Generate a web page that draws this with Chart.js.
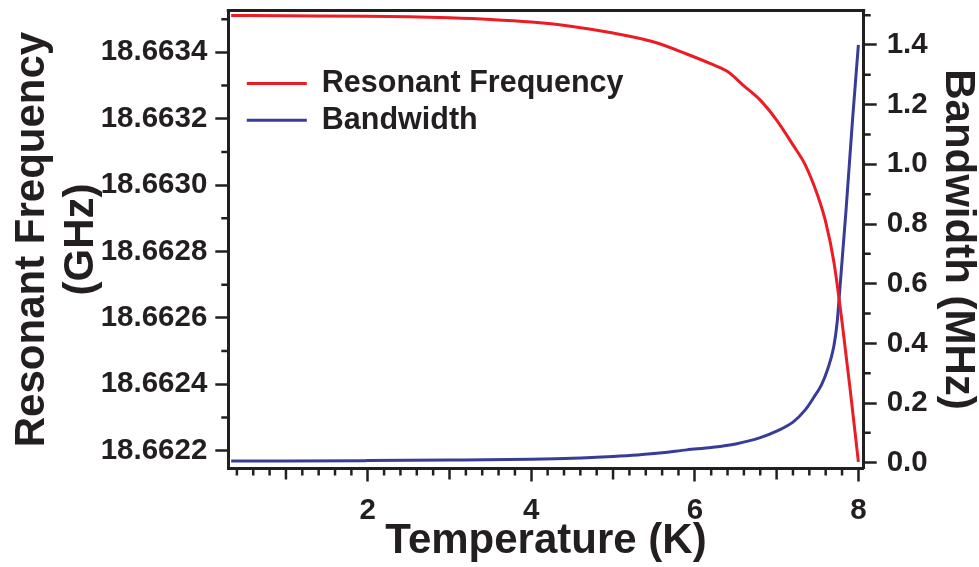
<!DOCTYPE html>
<html>
<head>
<meta charset="utf-8">
<title>Resonant frequency and bandwidth vs temperature</title>
<script src="https://cdn.jsdelivr.net/npm/chart.js@4.4.1/dist/chart.umd.min.js"></script>
<style>
    html, body { margin: 0; padding: 0; background: #fff; }
</style>
</head>
<body>
<canvas id="mainChart" width="979" height="567"></canvas>
<script>
// data
const tempFreq = [0.33, 1.0, 2.0, 2.5, 3.0, 3.5, 4.0, 4.5, 5.0, 5.5, 5.9, 6.2, 6.4, 6.6, 6.8, 7.0, 7.2, 7.35, 7.5, 7.6, 7.7, 7.8, 7.9, 8.0];
const freqGHz = [18.663511, 18.663510, 18.663509, 18.663507, 18.663504, 18.663499, 18.663491, 18.663478, 18.663458, 18.663431,
                 18.663395, 18.663365, 18.663342, 18.663299, 18.663256, 18.663196, 18.663121, 18.663061, 18.662970, 18.662889,
                 18.662769, 18.662588, 18.662383, 18.662166];

const tempBw = [0.33, 1.0, 2.0, 3.0, 4.0, 4.5, 5.0, 5.3, 5.6, 5.9, 6.2, 6.5, 6.8, 7.0, 7.2, 7.35, 7.45, 7.55, 7.62, 7.70, 7.74, 7.77, 7.85, 7.93, 8.0];
const bwMHz = [0.006, 0.006, 0.007, 0.009, 0.012, 0.015, 0.021, 0.026, 0.033, 0.043, 0.051, 0.063, 0.084, 0.106, 0.136, 0.177,
               0.217, 0.262, 0.31, 0.39, 0.47, 0.57, 0.85, 1.155, 1.40];

const seriesNames = ['Resonant Frequency', 'Bandwidth'];
const seriesColors = ['#ec1c24', '#383c98'];

const tempTicks = [2, 4, 6, 8];
const freqTicks = [18.6622, 18.6624, 18.6626, 18.6628, 18.6630, 18.6632, 18.6634];
const bwTicks = [0, 0.2, 0.4, 0.6, 0.8, 1.0, 1.2, 1.4];

const INK = '#231f20';
const FONT = '"Liberation Sans", Arial, Helvetica, sans-serif';

// minor tick values
const tempMinor = [];
for (let i = 2; i <= 40; i++) tempMinor.push(i / 5);
const freqMinor = [];
for (let i = 0; i < 7; i++) freqMinor.push(18.6623 + i * 0.0002);
const bwMinor = [];
for (let i = 0; i < 8; i++) bwMinor.push(0.1 + i * 0.2);

function pairs(xs, ys) {
    return xs.map((x, i) => ({x: x, y: ys[i]}));
}

// fixed axis size, no extra label overflow padding
function fixSize(w, h) {
    return s => {
        if (w) s.width = w;
        if (h) s.height = h;
        s.paddingTop = 0;
        s.paddingBottom = 0;
        s.paddingLeft = 0;
        s.paddingRight = 0;
    };
}

// top frame line + small ticks the library does not draw
const frameTicks = {
    id: 'frameTicks',
    afterDraw(chart) {
        const ctx = chart.ctx;
        const a = chart.chartArea;
        const sx = chart.scales.x, sy = chart.scales.y, sy1 = chart.scales.y1;
        ctx.save();
        ctx.strokeStyle = INK;
        ctx.lineWidth = 3;
        ctx.beginPath();
        ctx.moveTo(a.left - 1.5, a.top);
        ctx.lineTo(a.right + 1.5, a.top);
        ctx.stroke();

        ctx.lineWidth = 2.5;
        ctx.beginPath();
        tempMinor.forEach(v => {
            if (tempTicks.some(t => Math.abs(t - v) < 1e-6)) return;
            const px = sx.getPixelForValue(v);
            const len = Math.abs(v - Math.round(v)) < 1e-6 ? 11 : 7;
            ctx.moveTo(px, a.bottom);
            ctx.lineTo(px, a.bottom + len);
        });
        freqMinor.forEach(v => {
            const py = sy.getPixelForValue(v);
            ctx.moveTo(a.left - 7, py);
            ctx.lineTo(a.left, py);
        });
        bwMinor.forEach(v => {
            const py = sy1.getPixelForValue(v);
            ctx.moveTo(a.right, py);
            ctx.lineTo(a.right + 7, py);
        });
        ctx.stroke();
        ctx.restore();
    }
};

// legend sitting inside the plot, top left
const insideLegend = {
    id: 'insideLegend',
    afterDatasetsDraw(chart) {
        const ctx = chart.ctx;
        const a = chart.chartArea;
        ctx.save();
        ctx.font = 'bold 30.5px ' + FONT;
        ctx.textBaseline = 'middle';
        ctx.textAlign = 'left';
        chart.data.datasets.forEach((ds, i) => {
            const y = a.top + 73 + i * 36.7;
            ctx.strokeStyle = ds.borderColor;
            ctx.lineWidth = 3;
            ctx.beginPath();
            ctx.moveTo(a.left + 18.5, y);
            ctx.lineTo(a.left + 78.5, y);
            ctx.stroke();
            ctx.fillStyle = INK;
            ctx.fillText(ds.label, a.left + 93.5, y);
        });
        ctx.restore();
    }
};

const tickFont = {family: FONT, size: 29.5, weight: 'bold', lineHeight: 1.2};

new Chart(document.getElementById('mainChart'), {
    type: 'line',
    data: {
        datasets: [{
            label: seriesNames[0],
            data: pairs(tempFreq, freqGHz),
            borderColor: seriesColors[0],
            backgroundColor: seriesColors[0],
            borderWidth: 3,
            pointRadius: 0,
            cubicInterpolationMode: 'monotone',
            yAxisID: 'y'
        }, {
            label: seriesNames[1],
            data: pairs(tempBw, bwMHz),
            borderColor: seriesColors[1],
            backgroundColor: seriesColors[1],
            borderWidth: 3,
            pointRadius: 0,
            cubicInterpolationMode: 'monotone',
            yAxisID: 'y1'
        }]
    },
    options: {
        responsive: false,
        animation: false,
        events: [],
        layout: {padding: {top: 10.5, left: 0, right: 0, bottom: 0}},
        plugins: {
            legend: {display: false},
            tooltip: {enabled: false}
        },
        scales: {
            x: {
                type: 'linear',
                position: 'bottom',
                min: 0.295,
                max: 8.065,
                afterBuildTicks: s => { s.ticks = tempTicks.map(v => ({value: v})); },
                afterFit: fixSize(0, 98.5),
                ticks: {color: INK, font: tickFont, padding: 12, maxRotation: 0},
                grid: {drawOnChartArea: false, tickLength: 13, tickWidth: 2.5, tickColor: INK},
                border: {color: INK, width: 3},
                title: {
                    display: true,
                    text: 'Temperature (K)',
                    color: INK,
                    font: {family: FONT, size: 42, weight: 'bold', lineHeight: 1.2},
                    padding: {top: 0, bottom: 0}
                }
            },
            y: {
                type: 'linear',
                position: 'left',
                min: 18.662146,
                max: 18.663526,
                afterBuildTicks: s => { s.ticks = freqTicks.map(v => ({value: v})); },
                afterFit: fixSize(228.3, 0),
                ticks: {color: INK, font: tickFont, padding: 8, callback: v => v.toFixed(4)},
                grid: {drawOnChartArea: false, tickLength: 13, tickWidth: 2.5, tickColor: INK},
                border: {color: INK, width: 3},
                title: {
                    display: true,
                    text: ['Resonant Frequency', '(GHz)'],
                    color: INK,
                    font: {family: FONT, size: 42, weight: 'bold', lineHeight: 1.17},
                    padding: {top: 8, bottom: 0}
                }
            },
            y1: {
                type: 'linear',
                position: 'right',
                min: -0.0194,
                max: 1.5156,
                afterBuildTicks: s => { s.ticks = bwTicks.map(v => ({value: v})); },
                afterFit: fixSize(979 - 863.7, 0),
                ticks: {color: INK, font: tickFont, padding: 10, callback: v => v.toFixed(1)},
                grid: {drawOnChartArea: false, tickLength: 13, tickWidth: 2.5, tickColor: INK},
                border: {color: INK, width: 3},
                title: {
                    display: true,
                    text: 'Bandwidth (MHz)',
                    color: INK,
                    font: {family: FONT, size: 42, weight: 'bold', lineHeight: 0.93},
                    padding: {top: 2, bottom: 0}
                }
            }
        }
    },
    plugins: [frameTicks, insideLegend]
});
</script>
</body>
</html>
